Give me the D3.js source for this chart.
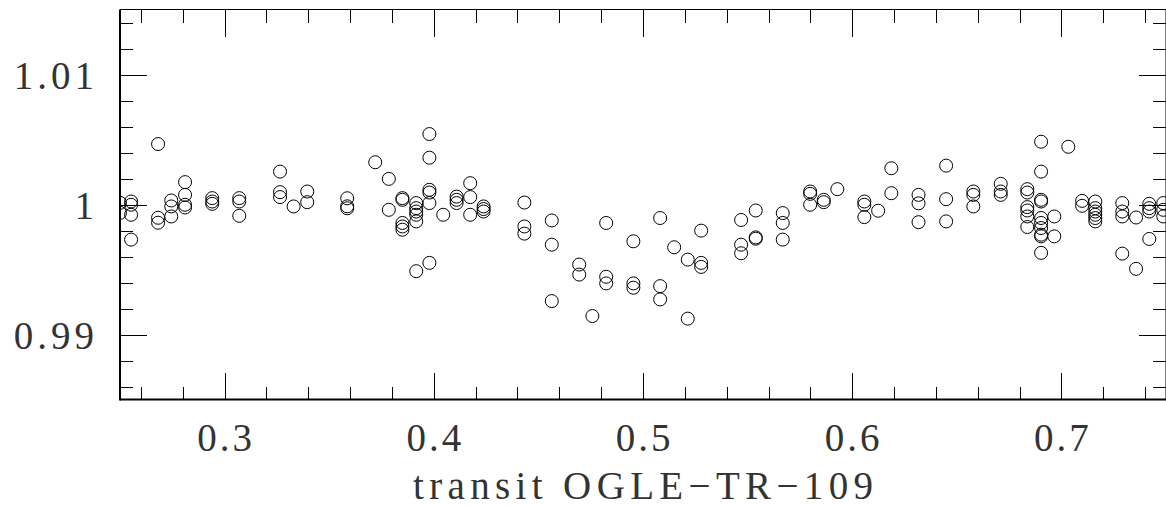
<!DOCTYPE html>
<html>
<head>
<meta charset="utf-8">
<script src="https://cdn.jsdelivr.net/npm/d3@7"></script>
<style>
  body { margin: 0; background: #fff; }
  svg { display: block; }
  .lbl { font-family: "Liberation Serif", "DejaVu Serif", serif; fill: #333; }
</style>
</head>
<body>
<div id="chart-area"></div>
<script>
// phase of each column of measurements
var phases = [0.2500, 0.2553, 0.2682, 0.2745, 0.2811, 0.2941, 0.3070, 0.3265, 0.3330, 0.3395,
    0.3586, 0.3720, 0.3785, 0.3850, 0.3916, 0.3979, 0.4045, 0.4109, 0.4174, 0.4238,
    0.4433, 0.4564, 0.4695, 0.4758, 0.4824, 0.4954, 0.5082, 0.5149, 0.5214, 0.5278,
    0.5469, 0.5539, 0.5668, 0.5799, 0.5864, 0.5929, 0.6058, 0.6124, 0.6187, 0.6317,
    0.6449, 0.6579, 0.6710, 0.6837, 0.6903, 0.6966, 0.7033, 0.7099, 0.7162, 0.7291,
    0.7357, 0.7420, 0.7487];

// relative flux values at each phase
var fluxes = [
    [1.00013, 0.99936],
    [1.00023, 0.99998, 0.99921, 0.99730],
    [1.00465, 0.99898, 0.99860],
    [1.00031, 0.99985, 0.99908],
    [1.00172, 1.00074, 0.99998, 0.99977],
    [1.00049, 1.00023, 1.00005],
    [1.00049, 1.00023, 0.99913],
    [1.00253, 1.00095, 1.00057],
    [0.99985],
    [1.00100, 1.00018],
    [1.00048, 0.99986, 0.99971],
    [1.00325],
    [1.00197, 0.99959],
    [1.00049, 1.00036, 0.99858, 0.99831, 0.99806],
    [1.00011, 0.99972, 0.99946, 0.99921, 0.99870, 0.99487],
    [1.00542, 1.00360, 1.00113, 1.00092, 1.00011, 0.99551],
    [0.99921],
    [1.00061, 1.00036, 1.00011],
    [1.00164, 1.00057, 0.99921],
    [0.99985, 0.99965, 0.99946],
    [1.00015, 0.99831, 0.99776],
    [0.99877, 0.99691, 0.99257],
    [0.99538, 0.99461],
    [0.99142],
    [0.99858, 0.99444, 0.99393],
    [0.99717, 0.99393, 0.99360],
    [0.99896, 0.99372, 0.99270],
    [0.99671],
    [0.99576, 0.99122],
    [0.99799, 0.99551, 0.99520],
    [0.99881, 0.99691, 0.99625],
    [0.99954, 0.99747, 0.99737],
    [0.99934, 0.99858, 0.99730],
    [1.00100, 1.00082, 0.99998],
    [1.00036, 1.00018],
    [1.00118],
    [1.00023, 0.99998, 0.99903],
    [0.99952],
    [1.00279, 1.00087],
    [1.00074, 1.00009, 0.99864],
    [1.00299, 1.00041, 0.99870],
    [1.00100, 1.00074, 0.99985],
    [1.00159, 1.00100, 1.00074],
    [1.00118, 1.00092, 0.99980, 0.99954, 0.99908, 0.99827],
    [1.00483, 1.00253, 1.00036, 1.00023, 0.99896, 0.99858, 0.99819, 0.99768, 0.99755, 0.99628],
    [0.99908, 0.99755],
    [1.00444],
    [1.00028, 0.99990],
    [1.00023, 0.99972, 0.99946, 0.99921, 0.99896, 0.99870],
    [1.00011, 0.99946, 0.99908, 0.99622],
    [0.99900, 0.99505],
    [1.00005, 0.99972, 0.99946, 0.99735],
    [1.00011, 0.99959, 0.99908]
];

var xTicks = [0.3, 0.4, 0.5, 0.6, 0.7];
var yTicks = [0.99, 1, 1.01];
var xLabelText = "transit OGLE\u2212TR\u2212109";

var margin = { left: 120, right: 0, top: 9.5, bottom: 106.5 };
var width = 1166 - margin.left - margin.right,
    height = 506 - margin.top - margin.bottom;

var svg = d3.select("#chart-area")
    .append("svg")
        .attr("width", 1166)
        .attr("height", 506);
var g = svg.append("g")
        .attr("transform", "translate(" + margin.left + "," + margin.top + ")");

// Scales
var x = d3.scaleLinear().domain([0.25, 0.75]).range([0, width]);
var y = d3.scaleLinear().domain([0.985, 1.015]).range([height, 0]);

var points = [];
phases.forEach(function(p, i) {
    fluxes[i].forEach(function(f) { points.push({ phase: p, flux: f }); });
});

svg.append("defs").append("clipPath").attr("id", "clip")
    .append("rect").attr("width", width).attr("height", height);

g.append("g").attr("clip-path", "url(#clip)")
    .selectAll("circle").data(points).enter()
    .append("circle")
        .attr("cx", function(d) { return x(d.phase); })
        .attr("cy", function(d) { return y(d.flux); })
        .attr("r", 6.5)
        .attr("fill", "none")
        .attr("stroke", "#000")
        .attr("stroke-width", 1);

// minor ticks every 0.02 in x and 0.002 in y
var xMinor = d3.range(0.26, 0.7501, 0.02);
var yMinor = d3.range(0.986, 1.0145, 0.002);

function tickAxis(axis, vals, size) {
    return axis.tickValues(vals).tickSize(size).tickFormat("");
}
function drawAxis(call, tr) {
    var a = g.append("g").attr("transform", tr).call(call);
    a.select(".domain").remove();
    a.selectAll("line").attr("stroke", "#000").attr("shape-rendering", "crispEdges");
    return a;
}
// bottom / top
drawAxis(tickAxis(d3.axisBottom(x), xMinor, -13), "translate(0," + height + ")");
drawAxis(tickAxis(d3.axisBottom(x), xTicks, -27), "translate(0," + height + ")");
drawAxis(tickAxis(d3.axisTop(x), xMinor, -13), "translate(0,0)");
drawAxis(tickAxis(d3.axisTop(x), xTicks, -27), "translate(0,0)");
// left / right
drawAxis(tickAxis(d3.axisLeft(y), yMinor, -13), "translate(0,0)");
drawAxis(tickAxis(d3.axisLeft(y), yTicks, -27), "translate(0,0)");
drawAxis(tickAxis(d3.axisRight(y), yMinor, -13), "translate(" + width + ",0)");
drawAxis(tickAxis(d3.axisRight(y), yTicks, -27), "translate(" + width + ",0)");

// frame
g.append("line").attr("x1", 0).attr("x2", width).attr("y1", 0).attr("y2", 0)
    .attr("stroke", "#000").attr("stroke-width", 1);
g.append("line").attr("x1", width).attr("x2", width).attr("y1", 0).attr("y2", height)
    .attr("stroke", "#000").attr("stroke-width", 1);
g.append("line").attr("x1", 0).attr("x2", width).attr("y1", height).attr("y2", height)
    .attr("stroke", "#000").attr("stroke-width", 2);
g.append("line").attr("x1", 0).attr("x2", 0).attr("y1", 0).attr("y2", height + 1)
    .attr("stroke", "#000").attr("stroke-width", 2);

// tick labels
g.selectAll(".xlbl").data(xTicks).enter()
    .append("text")
        .attr("class", "lbl")
        .attr("x", function(d) { return x(d) + 1.5; })
        .attr("y", height + 51.5)
        .attr("text-anchor", "middle")
        .attr("font-size", "39px")
        .attr("letter-spacing", "3px")
        .text(function(d) { return d3.format(".1f")(d); });

g.selectAll(".ylbl").data(yTicks).enter()
    .append("text")
        .attr("class", "lbl")
        .attr("x", -22)
        .attr("y", function(d) { return y(d) + 14; })
        .attr("text-anchor", "end")
        .attr("font-size", "39px")
        .attr("letter-spacing", "4px")
        .text(function(d) { return d === 1 ? "1" : d3.format(".2f")(d); });

g.append("text")
    .attr("class", "lbl")
    .attr("x", width / 2)
    .attr("y", height + 99.5)
    .attr("text-anchor", "middle")
    .attr("font-size", "39px")
    .attr("textLength", 460)
    .attr("lengthAdjust", "spacing")
    .text(xLabelText);
</script>
</body>
</html>
